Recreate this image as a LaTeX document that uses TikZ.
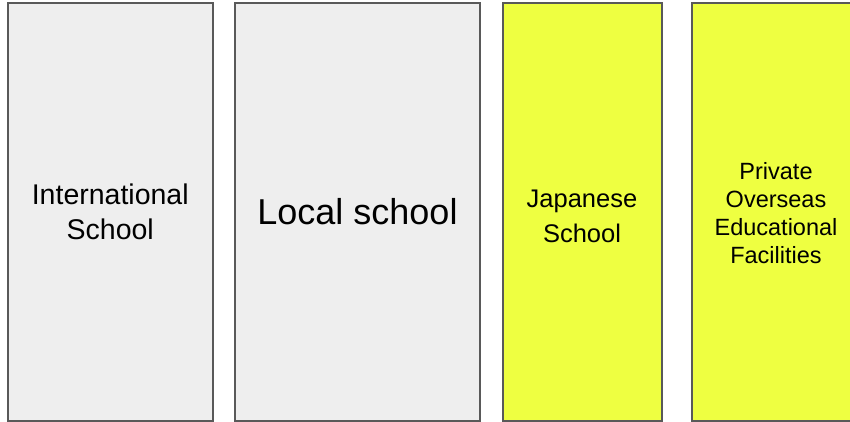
\documentclass[tikz,border=0pt]{standalone}
\usepackage{fontspec}
\setmainfont{Liberation Sans}
\definecolor{boxgray}{HTML}{EEEEEE}
\definecolor{boxyellow}{HTML}{EEFF41}
\definecolor{edge}{HTML}{595959}
\tikzset{
  schoolbox/.style={draw=edge, line width=2pt, inner sep=0pt, align=center,
    minimum height=417pt, text=black},
  graybox/.style={schoolbox, fill=boxgray},
  yellowbox/.style={schoolbox, fill=boxyellow},
  label text/.style={inner sep=0pt, align=center, text=black}
}
\begin{document}
\begin{tikzpicture}[x=1pt,y=-1pt]
\useasboundingbox (0,0) rectangle (850,422);
\clip (0,0) rectangle (850,422);
\node[graybox, minimum width=205.5pt, font=\fontsize{28.5}{35.5}\selectfont] (intl) at (110.25,212) {International\\School};
\node[graybox, minimum width=245pt, font=\fontsize{36}{43}\selectfont] (local) at (357.5,212) {Local school};
\node[yellowbox, minimum width=159pt] (jp) at (582,212) {};
\node[label text, font=\fontsize{25.5}{35}\selectfont] (jptext) at ([yshift=-4pt]jp.center) {Japanese\\School};
\node[yellowbox, minimum width=168pt] (priv) at (776,212) {};
\node[label text, font=\fontsize{23.5}{28}\selectfont] (privtext) at ([yshift=-1pt]priv.center) {Private\\Overseas\\Educational\\Facilities};
\end{tikzpicture}
\end{document}
